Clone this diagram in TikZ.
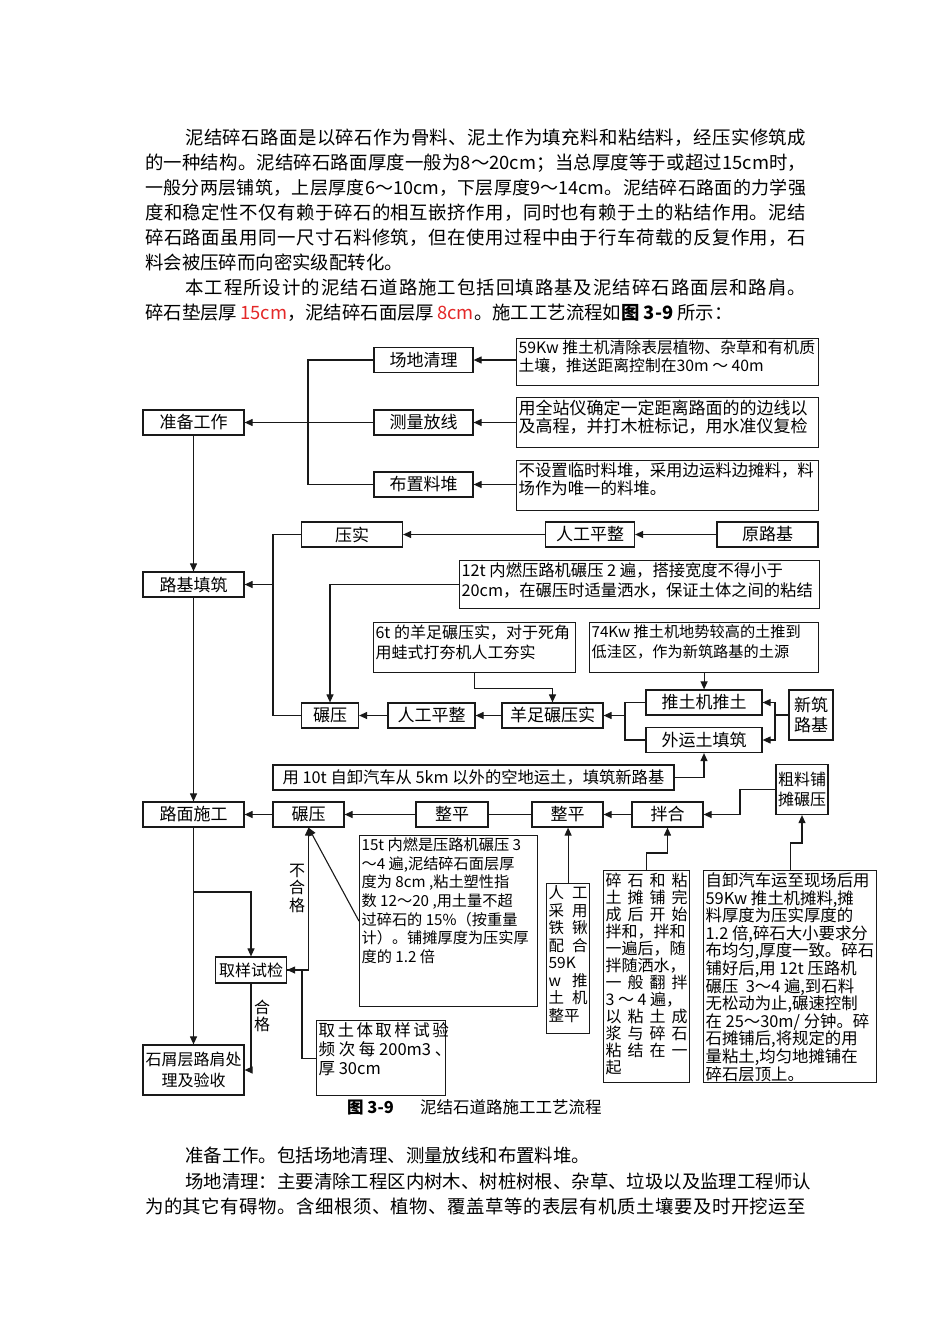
\documentclass[tikz,border=0pt]{standalone}
\usepackage{fontspec}
\setmainfont{Noto Sans CJK SC}
\usepackage{xcolor}
\usepackage{tikz}
\usetikzlibrary{arrows.meta,calc}
\definecolor{ink}{RGB}{25,25,25}
\definecolor{redtxt}{RGB}{228,40,40}
\setlength{\parskip}{0pt}
\newcommand{\fsz}[2]{\fontsize{#1}{#2}\selectfont}
\newcommand{\spread}[2]{\makebox[#1][s]{#2}}
\newcommand{\li}[1]{\mbox{#1}\par}
\newcommand{\notebox}[7]{\node[note] (#1) at (#2,#3) {\parbox[c][\dimexpr#5pt-4pt\relax][t]{\dimexpr#4pt-4pt\relax}{#6#7}};}
% justified body line: equal glue between all characters
\def\jlendmark{\jlend}
\def\jloop#1{\def\jltmp{#1}\ifx\jltmp\jlendmark\else#1\hskip0pt plus 1fil\relax\expandafter\jloop\fi}
\newcommand{\jline}[2][661pt]{\hbox to #1{\jloop#2\jlend\unskip}}

\begin{document}
\begin{tikzpicture}[x=1pt,y=-1pt,
  stage/.style={draw=ink,line width=1.2pt,inner sep=0pt,minimum height=25pt,align=center,font=\fsz{17}{19}},
  note/.style={draw=ink,line width=1.2pt,inner sep=2pt,anchor=north west},
  link/.style={draw=ink,line width=1.1pt},
  arr/.style={link,-{Triangle[length=8pt,width=7pt]}},
  body/.style={anchor=base west,inner sep=0pt,font=\fsz{18.4}{25}},
  tag/.style={inner sep=0pt,align=center,font=\fsz{16}{17.5}}]
\fill[white] (0,0) rectangle (950,1344);
\useasboundingbox (0,0) rectangle (950,1344);

% text above
\node[body] (p1a) at (185,144) {\jline[621pt]{泥结碎石路面是以碎石作为骨料、泥土作为填充料和粘结料，经压实修筑成}};
\node[body] (p1b) at (145,169) {\jline{的一种结构。泥结碎石路面厚度一般为{8～20cm}；当总厚度等于或超过{15cm}时，}};
\node[body,font=\fsz{18}{25}] (p1c) at (145,194) {\jline{一般分两层铺筑，上层厚度{6～10cm}，下层厚度{9～14cm}。泥结碎石路面的力学强}};
\node[body] (p1d) at (145,219) {\jline{度和稳定性不仅有赖于碎石的相互嵌挤作用，同时也有赖于土的粘结作用。泥结}};
\node[body] (p1e) at (145,244) {\jline{碎石路面虽用同一尺寸石料修筑，但在使用过程中由于行车荷载的反复作用，石}};
\node[body] (p1f) at (145,269) {料会被压碎而向密实级配转化。};
\node[body] (p2a) at (185,294) {\jline[621pt]{本工程所设计的泥结石道路施工包括回填路基及泥结碎石路面层和路肩。}};
\node[body] (p2b) at (145,319) {碎石垫层厚\,\textcolor{redtxt}{15cm}，泥结碎石面层厚\,\textcolor{redtxt}{8cm}。施工工艺流程如{\bfseries 图 3-9} 所示：};

% preparation
\node[stage,minimum width=101pt] (prep) at (193.5,422.5) {准备工作};
\node[stage,minimum width=99pt] (clear) at (423.5,360) {场地清理};
\node[stage,minimum width=99pt] (survey) at (423.5,422.5) {测量放线};
\node[stage,minimum width=99pt] (stock) at (423.5,484.5) {布置料堆};
\notebox{nclear}{516}{338}{302}{47}{\fsz{15.8}{18}}{\li{59Kw 推土机清除表层植物、杂草和有机质}\li{土壤，推送距离控制在30m ～ 40m}}
\notebox{nsurvey}{516}{397}{302}{50}{\fsz{17}{18}}{\li{用全站仪确定一定距离路面的的边线以}\li{及高程，并打木桩标记，用水准仪复检}}
\notebox{nstock}{516}{460}{302}{50}{\fsz{16.4}{18}}{\li{不设置临时料堆，采用边运料边摊料，料}\li{场作为唯一的料堆。}}
\draw[arr] (nclear.west |- clear.east) -- (clear.east);
\draw[arr] (nsurvey.west |- survey.east) -- (survey.east);
\draw[arr] (nstock.west |- stock.east) -- (stock.east);
\coordinate (prepbus) at (308,422.5);
\draw[link] (clear.west) -| (prepbus) |- (stock.west);
\draw[arr] (survey.west) -- (prep.east);

% subgrade
\node[stage,minimum width=101pt] (subgrade) at (193.5,584.5) {路基填筑};
\node[stage,minimum width=101pt] (compact) at (352,534.5) {压实};
\node[stage,minimum width=89pt] (level) at (590,534.5) {人工平整};
\node[stage,minimum width=101pt] (orig) at (767.5,534.5) {原路基};
\notebox{nroll12}{459}{560}{360}{48}{\fsz{16.3}{20}}{\li{12t 内燃压路机碾压 2 遍，搭接宽度不得小于}\li{20cm，在碾压时适量洒水，保证土体之间的粘结}}
\notebox{nsheep}{373}{622}{202}{50}{\fsz{16}{20}}{\li{6t 的羊足碾压实，对于死角}\li{用蛙式打夯机人工夯实}}
\notebox{npush}{589}{622}{229}{50}{\fsz{15.2}{20}}{\li{74Kw 推土机地势较高的土推到}\li{低洼区，作为新筑路基的土源}}
\node[stage,minimum width=57pt] (roll) at (330,715.5) {碾压};
\node[stage,minimum width=87pt] (levelb) at (431.5,715.5) {人工平整};
\node[stage,minimum width=101pt] (sheep) at (552.5,715.5) {羊足碾压实};
\node[stage,minimum width=116pt] (push) at (704,702.5) {推土机推土};
\node[stage,minimum width=116pt] (haul) at (704,740) {外运土填筑};
\node[stage,minimum width=44pt,minimum height=50pt,font=\fsz{17}{20}] (newbed) at (811,715) {新筑\\路基};
\node[stage,minimum width=401pt,font=\fsz{16.3}{19}] (nhaul) at (473.5,777.5) {用 10t 自卸汽车从 5km 以外的空地运土，填筑新路基};
\draw[arr] (prep.south) -- (subgrade.north);
\draw[arr] (orig.west) -- (level.east);
\draw[arr] (level.west) -- (compact.east);
\coordinate (subbus) at (273,584.5);
\draw[link] (compact.west) -| (subbus) |- (roll.west);
\draw[arr] (subbus) -- (subgrade.east);
\draw[arr] (nroll12.west) -| (roll.north);
\draw[arr] (nsheep.south) -- ++(0,15) -| (sheep.north);
\draw[arr] (npush.south) -- (npush.south |- push.north);
\draw[arr] (levelb.west) -- (roll.east);
\draw[arr] (sheep.west) -- (levelb.east);
\coordinate (pushbus) at (625,715.5);
\draw[link] (push.west) -| (pushbus) |- (haul.west);
\draw[arr] (pushbus) -- (sheep.east);
\coordinate (newbus) at (775,715);
\draw[link] (newbed.west) -- (newbus);
\draw[arr] (newbus) |- (push.east);
\draw[arr] (newbus) |- (haul.east);
\draw[arr] (nhaul.east) -| (haul.south);

% pavement
\node[stage,minimum width=101pt] (pave) at (193.5,814.5) {路面施工};
\node[stage,minimum width=71pt] (rollc) at (308.5,814.5) {碾压};
\node[stage,minimum width=72pt] (flatA) at (452,814.5) {整平};
\node[stage,minimum width=71pt] (flatB) at (567.5,814.5) {整平};
\node[stage,minimum width=71pt] (mix) at (667.5,814.5) {拌合};
\node[stage,minimum width=52pt,minimum height=50pt,font=\fsz{16}{20}] (coarse) at (802,789.5) {粗料铺\\摊碾压};
\notebox{nroll15}{359}{835}{178}{171}{\fsz{15.2}{18.7}}{\li{15t 内燃是压路机碾压 3}\li{～4 遍,泥结碎石面层厚}\li{度为 8cm ,粘土塑性指}\li{数 12～20 ,用土量不超}\li{过碎石的 15\%（按重量}\li{计）。铺摊厚度为压实厚}\li{度的 1.2 倍}}
\notebox{nspade}{546}{883}{43}{150}{\fsz{15.5}{17.5}}{\li{\spread{39pt}{人 工}}\li{\spread{39pt}{采 用}}\li{\spread{39pt}{铁 锹}}\li{\spread{39pt}{配 合}}\li{59K}\li{\spread{39pt}{w 推}}\li{\spread{39pt}{土 机}}\li{整平}}
\notebox{nmix}{603}{870}{86}{212}{\fsz{16}{17}}{\li{\spread{82pt}{碎 石 和 粘}}\li{\spread{82pt}{土 摊 铺 完}}\li{\spread{82pt}{成 后 开 始}}\li{拌和，拌和}\li{一遍后，随}\li{拌随洒水，}\li{\spread{82pt}{一 般 翻 拌}}\li{3 ～ 4 遍，}\li{\spread{82pt}{以 粘 土 成}}\li{\spread{82pt}{浆 与 碎 石}}\li{\spread{82pt}{粘 结 在 一}}\li{起}}
\notebox{ndump}{703}{870}{173}{212}{\fsz{16.4}{17.6}}{\li{自卸汽车运至现场后用}\li{59Kw 推土机摊料,摊}\li{料厚度为压实厚度的}\li{1.2 倍,碎石大小要求分}\li{布均匀,厚度一致。碎石}\li{铺好后,用 12t 压路机}\li{碾压 \ 3～4 遍,到石料}\li{无松动为止,碾速控制}\li{在 25～30m/ 分钟。碎}\li{石摊铺后,将规定的用}\li{量粘土,均匀地摊铺在}\li{碎石层顶上。}}
\draw[arr] (subgrade.south) -- (pave.north);
\draw[arr] (rollc.west) -- (pave.east);
\draw[arr] (flatA.west) -- (rollc.east);
\draw[link] (flatB.west) -- (flatA.east);
\draw[arr] (mix.west) -- (flatB.east);
\coordinate (coarseturn) at (740,789.5);
\draw[arr] (coarse.west) -- (coarseturn) |- (mix.east);
\draw[arr] (nspade.north) -- (nspade.north |- flatB.south);
\draw[arr] (nmix.north) -- ++(0,-17) -| (mix.south);
\draw[arr] (ndump.north) -- ++(0,-27) -| (coarse.south);
\draw[arr] (nroll15.west) -- (rollc.south);

% test and shoulder
\node[stage,minimum width=71pt,minimum height=26pt,font=\fsz{16}{19}] (test) at (251,970) {取样试检};
\node[stage,minimum width=101pt,minimum height=50pt,font=\fsz{16}{21}] (shoulder) at (193.5,1070) {石屑层路肩处\\理及验收};
\notebox{nsample}{316}{1020}{129}{75}{\fsz{16.5}{19}}{\li{\spread{125pt}{取 土 体 取 样 试 验}}\li{频 次 每 200m3 、}\li{厚 30cm}}
\node[tag] (fail) at (297,888) {不\\合\\格};
\node[tag] (pass) at (262,1016) {合\\格};
\coordinate (pavebr) at (193.5,892);
\draw[arr] (pave.south) -- (shoulder.north);
\draw[arr] (pavebr) -| (test.north);
\draw[arr] (test.east) -| (rollc.south);
\coordinate (sampleup) at (302,970);
\draw[arr] (nsample.west) -| (sampleup) -- (test.east);
\draw[arr] (test.south) |- (shoulder.east);

% caption
\node[anchor=base west,inner sep=0pt,font=\fsz{16.5}{19}\bfseries] (capnum) at (347,1113) {图 3-9};
\node[anchor=base west,inner sep=0pt,font=\fsz{16.5}{19}] (captext) at (420,1113) {泥结石道路施工工艺流程};

% text below
\node[body] (p3) at (185,1162) {准备工作。包括场地清理、测量放线和布置料堆。};
\node[body] (p4a) at (185,1188) {\jline[621pt]{场地清理：主要清除工程区内树木、树桩树根、杂草、垃圾以及监理工程师认}};
\node[body] (p4b) at (145,1213) {\jline{为的其它有碍物。含细根须、植物、覆盖草等的表层有机质土壤要及时开挖运至}};
\end{tikzpicture}
\end{document}
